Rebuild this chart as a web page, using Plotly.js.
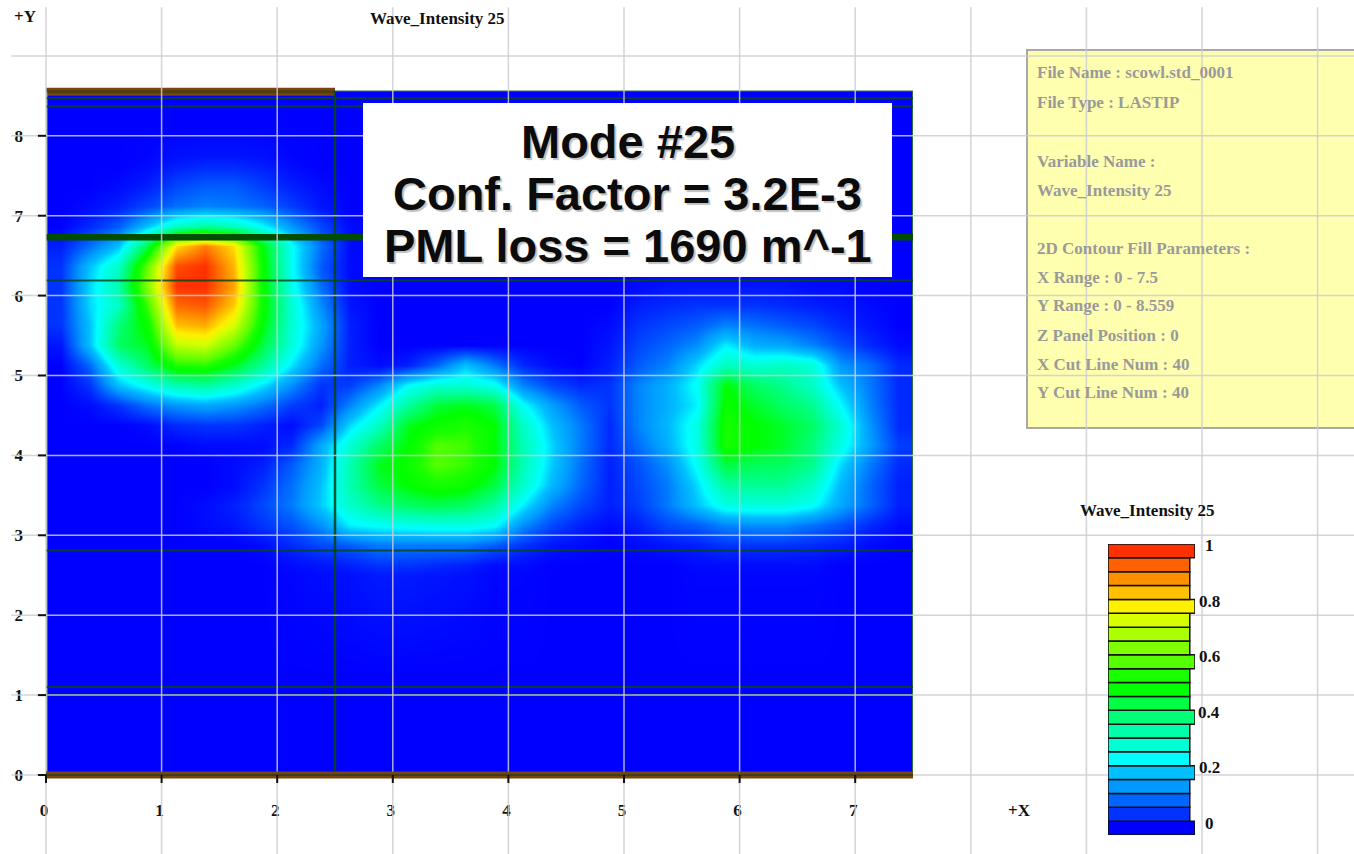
<!DOCTYPE html>
<html><head><meta charset="utf-8">
<script src="https://cdn.plot.ly/plotly-3.0.1.min.js"></script>
<style>html,body{margin:0;padding:0;background:#fff;overflow:hidden}</style>
</head><body><div id="chart" style="width:1354px;height:854px"></div>
<script>
// Cell edges of the intensity field (x 0 - 7.5, y 0 - 8.559)
const xEdges = [0,.25,.5,.75,1,1.25,1.5,1.75,2,2.25,2.5,2.75,3,3.25,3.5,3.75,4,4.25,4.5,4.75,5,5.25,5.5,5.75,6,6.25,6.5,6.75,7,7.25,7.5];
const yEdgesTopDown = [8.559,7.75,7.5,7.25,7,6.75,6.5,6.25,6,5.75,5.5,5.25,5,4.75,4.5,4.25,4,3.75,3.5,3.25,3,2.75,2.5,0];
// Wave intensity, top row first, one row per y band
const intensityTopDown = [
[0,0,0,0,0,0,0,0,0,0,0,0,0,0,0,0,0,0,0,0,0,0,0,0,0,0,0,0,0,0],
[0,0,0,.01,.03,.04,.04,.03,.01,0,0,0,0,0,0,0,0,0,0,0,0,0,0,0,0,0,0,0,0,0],
[0,0,.01,.03,.07,.09,.09,.06,.03,.01,0,0,0,0,0,0,0,0,0,0,0,0,0,0,0,0,0,0,0,0],
[0,.01,.03,.07,.11,.13,.12,.1,.06,.02,0,0,0,0,0,0,0,0,0,0,0,0,0,0,0,0,0,0,0,0],
[0,.04,.09,.2,.32,.36,.33,.25,.15,.07,.01,0,0,0,0,0,0,0,0,0,0,0,0,0,0,0,0,0,0,0],
[.03,.11,.2,.45,.82,.92,.82,.5,.26,.11,.01,0,0,0,0,0,0,0,0,0,0,0,0,0,0,0,0,0,0,0],
[.05,.2,.32,.62,.97,1,.86,.52,.26,.09,.01,0,0,0,0,0,0,0,0,0,0,0,0,0,0,0,0,0,0,0],
[.05,.22,.35,.66,1,1,.88,.52,.27,.11,.01,0,0,0,0,0,0,0,0,0,.01,.02,.02,.02,.02,.02,.01,.01,0,0],
[.05,.22,.32,.58,.94,.96,.84,.52,.3,.14,.02,0,0,0,0,0,0,0,0,0,.03,.04,.05,.05,.05,.04,.03,.02,.01,0],
[.05,.2,.4,.52,.85,.87,.75,.5,.3,.17,.03,0,0,0,0,0,0,0,0,.01,.05,.07,.09,.13,.11,.09,.07,.04,.02,0],
[.02,.2,.42,.48,.72,.74,.62,.45,.29,.15,.03,0,0,0,0,0,0,0,0,.02,.07,.1,.14,.24,.18,.17,.13,.08,.04,.01],
[0,.1,.3,.42,.55,.56,.48,.37,.23,.11,.03,.01,.03,.1,.2,.12,.04,.01,0,.03,.09,.13,.22,.33,.3,.32,.3,.15,.11,.04],
[0,.05,.2,.27,.34,.36,.31,.23,.14,.05,.06,.13,.25,.3,.3,.27,.13,.07,.04,.05,.13,.18,.26,.5,.42,.38,.32,.2,.12,.04],
[0,.01,.05,.11,.15,.17,.15,.11,.06,.03,.13,.24,.36,.46,.48,.45,.26,.16,.09,.05,.13,.18,.24,.52,.47,.42,.38,.25,.13,.04],
[0,0,0,.01,.04,.05,.05,.03,.01,.07,.22,.32,.48,.52,.55,.5,.32,.2,.12,.04,.13,.19,.28,.54,.5,.47,.42,.3,.15,.04],
[0,0,0,0,0,.01,.01,.01,.04,.17,.3,.42,.5,.6,.58,.5,.34,.22,.12,.04,.11,.18,.28,.54,.5,.47,.4,.28,.16,.06],
[0,0,0,0,0,0,.01,.03,.09,.18,.34,.48,.52,.6,.57,.5,.34,.21,.11,.03,.08,.14,.26,.45,.43,.42,.38,.22,.12,.04],
[0,0,0,0,0,0,.01,.05,.11,.2,.34,.45,.5,.54,.52,.45,.31,.19,.1,.03,.07,.12,.22,.36,.37,.37,.32,.19,.1,.03],
[0,0,0,0,0,.01,.03,.07,.12,.21,.31,.38,.42,.44,.42,.36,.24,.13,.07,.03,.06,.12,.2,.28,.29,.29,.26,.17,.1,.03],
[0,0,0,0,0,.01,.02,.05,.08,.14,.24,.26,.27,.28,.28,.26,.14,.07,.03,.01,.03,.07,.09,.13,.14,.14,.11,.08,.04,.01],
[0,0,0,0,0,0,0,.01,.04,.07,.09,.12,.12,.12,.12,.09,.05,.02,.01,0,.01,.02,.03,.05,.05,.05,.04,.03,.01,0],
[0,0,0,0,0,0,0,0,.01,.02,.03,.05,.05,.04,.03,.01,.01,0,0,0,0,0,.01,.01,.01,.01,.01,0,0,0],
[0,0,0,0,0,0,0,0,0,0,0,0,0,0,0,0,0,0,0,0,0,0,0,0,0,0,0,0,0,0]
];
// Legend levels and colours
const legendLevels = [0,.05,.1,.15,.2,.25,.3,.35,.4,.45,.5,.55,.6,.65,.7,.75,.8,.85,.9,.95,1];
const legendColors = ['#0000ff','#0033ff','#0066ff','#0099ff','#00c0ff','#00ffff','#00ffd5','#00ffaa','#00ff77','#00ff44','#00ff00','#1aff00','#55ff00','#80ff00','#aaff00','#d8ff00','#fff000','#ffc000','#ff9000','#ff6000','#ff3000'];
const legendLengths = [1,.94,.94,.94,1,.94,.94,.94,1,.94,.94,.94,1,.94,.94,.94,1,.94,.94,.94,1];
const legendTickVals = [0,.2,.4,.6,.8,1];
const legendTickText = ['0','0.2','0.4','0.6','0.8','1'];
// Mesh lines of the structure
const meshThinY = [8.47,8.365,6.19,2.81,1.1,1.0];
const meshThickY = [6.73];
const meshX = [2.5];
const tickX = [0,1,2,3,4,5,6,7];
const tickY = [0,1,2,3,4,5,6,7,8];
// Page grid
const gridX = [0,1,2,3,4,5,6,7,8,9,10,11];
const gridY = [0,1,2,3,4,5,6,7,8,9];
// Text
const panelLines = [['File Name : scowl.std_0001',73],['File Type : LASTIP',102],['Variable Name :',161],['Wave_Intensity 25',190],['2D Contour Fill Parameters :',248],['X Range : 0 - 7.5',277],['Y Range : 0 - 8.559',306],['Z Panel Position : 0',335],['X Cut Line Num : 40',364],['Y Cut Line Num : 40',393]];
const boxLines = [['Mode #25',142],['Conf. Factor = 3.2E-3',193],['PML loss = 1690 m^-1',245]];
const varName = 'Wave_Intensity 25';

const W=1354,H=854;
const px=v=>v/W, py=v=>1-v/H;
const serif='"Liberation Serif", serif';
const scale=legendColors.map((c,i)=>[legendLevels[i],c]);
const lineTrace=(xa,ya,xs,ys,color,width)=>({type:'scatter',mode:'lines',xaxis:xa,yaxis:ya,x:xs,y:ys,line:{color,width,simplify:false},hoverinfo:'skip',showlegend:false,connectgaps:false});
const hLines=(vals,a,b)=>{const x=[],y=[];vals.forEach(v=>{x.push(a,b,null);y.push(v,v,null)});return{x,y}};
const vLines=(vals,a,b)=>{const x=[],y=[];vals.forEach(v=>{x.push(v,v,null);y.push(a,b,null)});return{x,y}};

const thin=hLines(meshThinY,0,7.5), thick=hLines(meshThickY,0,7.5), mv=vLines(meshX,0,8.56);
const gridV=vLines(gridX,-0.9887,9.61), gridH=hLines(gridY,-0.3,11.32);
const tickMarksX=vLines(tickX,0,-0.1), tickMarksY=hLines(tickY,-0.07,0);
const gridColor='rgba(205,205,210,0.85)';

const data=[
 {type:'heatmap',x:xEdges,y:yEdgesTopDown.slice().reverse(),z:intensityTopDown.slice().reverse(),zmin:0,zmax:1,zsmooth:'best',colorscale:scale,showscale:false,hoverinfo:'skip'},
 lineTrace('x','y',[0,2.5],[8.55,8.55],'#7a4310',8),
 lineTrace('x','y',[0,0],[0,8.56],'#7fb08a',3),
 lineTrace('x','y',[7.5,7.5],[0,8.56],'#2f6a3a',2),
 lineTrace('x','y',[2.5,7.5],[8.56,8.56],'#2f6a3a',1),
 lineTrace('x','y',thin.x,thin.y,'rgba(6,70,30,0.85)',2),
 lineTrace('x','y',[0,2.5],[8.55,8.55],'rgba(40,60,15,0.55)',3),
 lineTrace('x','y',mv.x,mv.y,'rgba(6,70,30,0.9)',2.5),
 lineTrace('x','y',thick.x,thick.y,'#004d00',6.5),
 lineTrace('x2','y2',gridV.x,gridV.y,gridColor,1.5),
 lineTrace('x2','y2',gridH.x,gridH.y,gridColor,1.5),
 lineTrace('x2','y2',[0,7.5],[0,0],'#7a4310',7),
 lineTrace('x2','y2',[0,7.5],[0,0],'rgba(6,70,30,0.8)',1.5),
 lineTrace('x2','y2',tickMarksX.x,tickMarksX.y,'#111',2),
 lineTrace('x2','y2',tickMarksY.x,tickMarksY.y,'#111',2),
 {type:'bar',orientation:'h',xaxis:'x3',yaxis:'y3',y:legendLevels,x:legendLengths,width:.05,marker:{color:legendColors,line:{color:'#111',width:1.5}},hoverinfo:'skip',showlegend:false}
];

const annotations=[
 {text:varName,x:px(437),y:py(18),font:{family:serif,size:17,color:'#111',weight:'bold'}},
 {text:'+Y',x:px(25),y:py(16),font:{family:serif,size:17,color:'#111',weight:'bold'}},
 {text:'+X',x:px(1019),y:py(810),font:{family:serif,size:17,color:'#111',weight:'bold'}},
 {text:varName,x:px(1147),y:py(510),font:{family:serif,size:17,color:'#111',weight:'bold'}}
].map(a=>Object.assign({xref:'paper',yref:'paper',showarrow:false,xanchor:'center',yanchor:'middle'},a));
boxLines.forEach(([t,yy])=>annotations.push({text:t,xref:'paper',yref:'paper',x:px(627.5),y:py(yy),xanchor:'center',yanchor:'middle',showarrow:false,font:{family:'"Liberation Sans", Arial, sans-serif',size:47,color:'#0b0b0b',weight:'bold',shadow:'2px 2px 1px #c0c0c0'}}));
panelLines.forEach(([t,yy])=>annotations.push({text:t,xref:'paper',yref:'paper',x:px(1035),y:py(yy),xanchor:'left',yanchor:'middle',showarrow:false,font:{family:serif,size:17,color:'#9a9a9a',weight:'bold'}}));
legendTickVals.forEach((v,i)=>annotations.push({text:legendTickText[i],xref:'paper',yref:'y3',x:px(1209),y:v,yshift:5,xanchor:'center',yanchor:'middle',showarrow:false,font:{family:serif,size:17,color:'#111',weight:'bold'}}));

const layout={
 width:W,height:H,margin:{l:0,r:0,t:0,b:0},paper_bgcolor:'#fff',plot_bgcolor:'rgba(0,0,0,0)',showlegend:false,barmode:'overlay',bargap:0,
 xaxis:{domain:[px(46),px(913)],range:[0,7.5],tickvals:tickX,ticks:'',showgrid:false,zeroline:false,showline:false,ticklabelstandoff:20,ticklabelshift:-2,tickfont:{family:serif,size:17,color:'#111',weight:'bold'}},
 yaxis:{domain:[py(778),py(87)],range:[-0.0375,8.61],tickvals:tickY,ticks:'',showgrid:false,zeroline:false,showline:false,ticklabelstandoff:22,tickfont:{family:serif,size:17,color:'#111',weight:'bold'}},
 xaxis2:{domain:[0,1],range:[-0.3979,11.3149],visible:false,anchor:'y2',fixedrange:true},
 yaxis2:{domain:[0,1],range:[-0.9887,9.6996],visible:false,anchor:'x2',fixedrange:true},
 xaxis3:{domain:[px(1108),px(1195)],range:[0,1],visible:false,anchor:'y3',fixedrange:true},
 yaxis3:{domain:[py(835),py(544)],range:[-.025,1.025],visible:false,anchor:'x3',fixedrange:true},
 shapes:[
  {type:'rect',xref:'paper',yref:'paper',x0:px(1027),x1:px(1360),y0:py(428),y1:py(50),fillcolor:'#ffffb0',line:{color:'#a8a8a8',width:2},layer:'below'},
  {type:'rect',xref:'paper',yref:'paper',x0:px(363),x1:px(892),y0:py(277),y1:py(103),fillcolor:'#ffffff',line:{width:0},layer:'above'}
 ],
 annotations
};
Plotly.newPlot('chart',data,layout,{displayModeBar:false,staticPlot:true});
</script></body></html>
